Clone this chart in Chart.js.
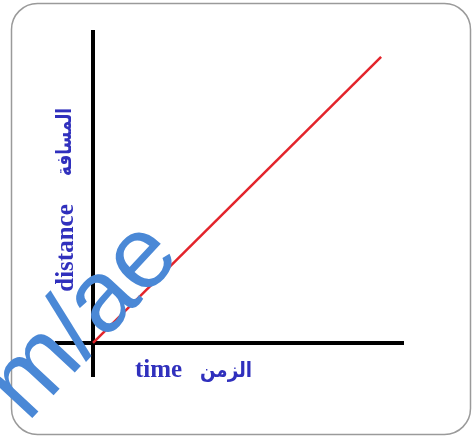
<!DOCTYPE html>
<html>
<head>
<meta charset="utf-8">
<script src="https://cdn.jsdelivr.net/npm/chart.js@4"></script>
<style>
  html, body { margin: 0; padding: 0; background: #fff; }
  #wrap { width: 474px; height: 437px; position: relative; }
</style>
</head>
<body>
<div id="wrap"><canvas id="distanceChart"></canvas></div>
<script>
// time / distance values of the red line
const timeValues = [0, 10];
const distanceValues = [0, 10];

const xLabelEn = "time";
const xLabelAr = "الزمن";
const yLabelEn = "distance";
const yLabelAr = "المسافة";
const watermark = "m/ae";

const points = timeValues.map((t, i) => ({ x: t, y: distanceValues[i] }));

// frame, axis labels and watermark
const decorPlugin = {
    id: "decor",
    beforeDraw(chart) {
        const c = chart.ctx;
        c.save();
        c.fillStyle = "#fff";
        c.fillRect(0, 0, chart.width, chart.height);
        c.strokeStyle = "#9a9a9a";
        c.lineWidth = 1.5;
        c.beginPath();
        c.roundRect(11.5, 3.5, 459, 431, 26);
        c.stroke();
        c.restore();
    },
    afterDraw(chart) {
        const c = chart.ctx;
        c.save();
        c.fillStyle = "#3030bd";

        c.font = "bold 25px 'Liberation Serif', serif";
        c.textAlign = "left";
        c.textBaseline = "alphabetic";
        c.fillText(xLabelEn, 135, 377);

        c.save();
        c.translate(226, 377);
        c.scale(0.87, 1);
        c.font = "bold 21px 'DejaVu Sans', sans-serif";
        c.textAlign = "center";
        c.fillText(xLabelAr, 0, 0);
        c.restore();

        c.save();
        c.translate(73, 248);
        c.rotate(-Math.PI / 2);
        c.font = "bold 25px 'Liberation Serif', serif";
        c.textAlign = "center";
        c.fillText(yLabelEn, 0, 0);
        c.restore();

        c.save();
        c.translate(71, 142);
        c.rotate(-Math.PI / 2);
        c.scale(0.8, 1);
        c.font = "bold 21px 'DejaVu Sans', sans-serif";
        c.textAlign = "center";
        c.fillText(yLabelAr, 0, 0);
        c.restore();

        // watermark
        c.save();
        c.translate(85, 322);
        c.rotate(-47 * Math.PI / 180);
        c.fillStyle = "#4a88d6";
        c.font = "102px 'Liberation Sans', Arial, sans-serif";
        c.textAlign = "center";
        c.fillText(watermark, 0, 27);
        c.restore();

        c.restore();
    }
};

new Chart(document.getElementById("distanceChart"), {
    type: "line",
    data: {
        datasets: [{
            data: points,
            borderColor: "#e3242b",
            borderWidth: 2.5,
            pointRadius: 0,
            fill: false
        }]
    },
    options: {
        responsive: true,
        maintainAspectRatio: false,
        animation: false,
        layout: { padding: { left: 57, right: 71, top: 32, bottom: 61 } },
        plugins: {
            legend: { display: false },
            tooltip: { enabled: false }
        },
        scales: {
            x: {
                type: "linear",
                min: -1.25,
                max: 10.76,
                position: { y: 0 },
                grid: { display: false },
                ticks: { display: false },
                border: { display: true, color: "#000", width: 4 }
            },
            y: {
                type: "linear",
                min: -1.154,
                max: 10.87,
                position: { x: 0 },
                grid: { display: false },
                ticks: { display: false },
                border: { display: true, color: "#000", width: 4 }
            }
        }
    },
    plugins: [decorPlugin]
});
</script>
</body>
</html>
